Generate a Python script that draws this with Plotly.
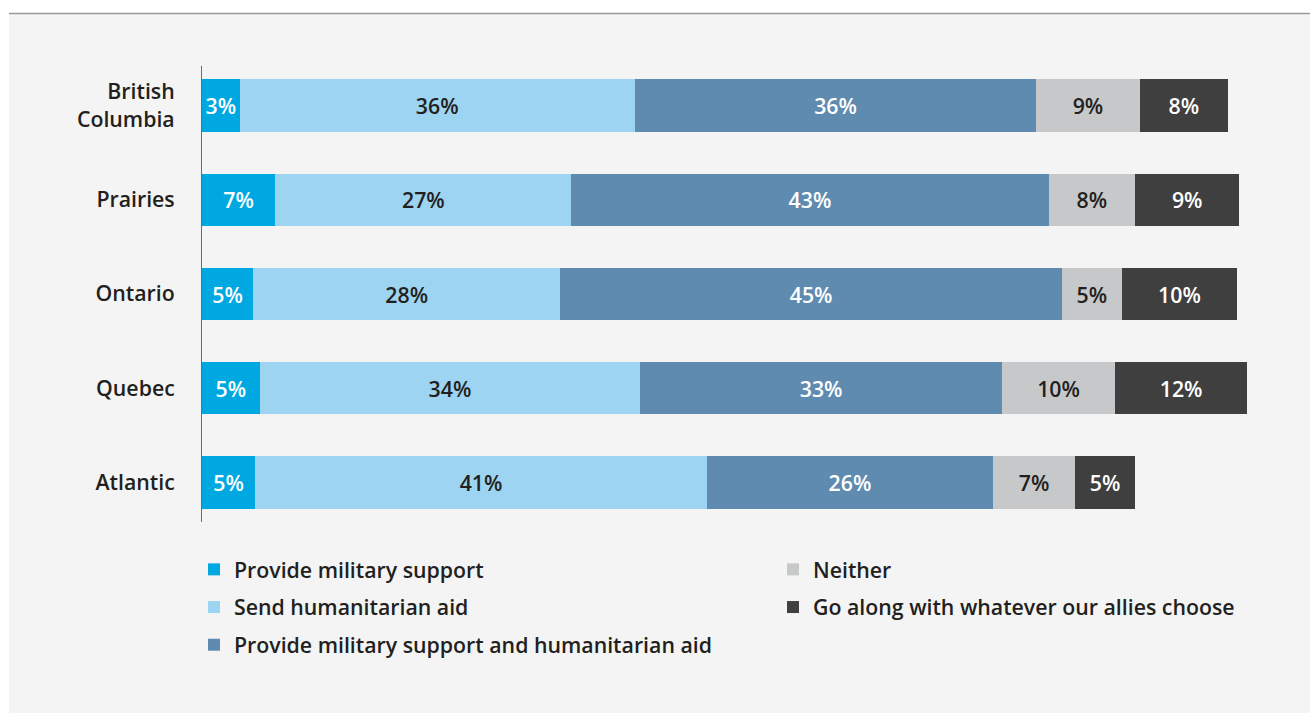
import plotly.graph_objects as go

regions = ["British<br>Columbia", "Prairies", "Ontario", "Quebec", "Atlantic"]

series_names = [
    "Provide military support",
    "Send humanitarian aid",
    "Provide military support and humanitarian aid",
    "Neither",
    "Go along with whatever our allies choose",
]

military = [3.4, 6.6, 4.6, 5.2, 4.8]
humanitarian = [35.6, 26.7, 27.7, 34.3, 40.7]
both = [36.2, 43.0, 45.2, 32.6, 25.8]
neither = [9.3, 7.8, 5.4, 10.2, 7.4]
allies = [8.0, 9.4, 10.4, 11.9, 5.4]

series_values = [military, humanitarian, both, neither, allies]
colors = ["#00a8e1", "#9dd4f1", "#608bb0", "#c7c8c9", "#3f3f3f"]
text_colors = ["#ffffff", "#231f20", "#ffffff", "#231f20", "#ffffff"]
legend_ids = ["legend", "legend", "legend", "legend2", "legend2"]

FONT = "Open Sans"
WEIGHT = 600
FS = 21.3
W, H = 1310, 713
ML, MR, MT, MB = 202, 54, 66, 191
PW = W - ML - MR
PH = H - MT - MB

fig = go.Figure()
for name, vals, col, tcol, lg in zip(series_names, series_values, colors, text_colors, legend_ids):
    fig.add_trace(go.Bar(
        y=regions, x=vals, name=name, orientation="h",
        marker=dict(color=col, line=dict(width=0)),
        texttemplate="%{x:.0f}%", textposition="inside", insidetextanchor="middle",
        textfont=dict(family=FONT, size=FS, color=tcol, weight=WEIGHT),
        legend=lg, legendgroup=name, hoverinfo="skip",
    ))

def px_x(p):
    return (p - ML) / PW

def px_y(p):
    return (H - MB - p) / PH

legend_font = dict(family=FONT, size=FS, color="#231f20", weight=WEIGHT)

fig.update_layout(
    width=W, height=H,
    margin=dict(l=ML, r=MR, t=MT, b=MB, pad=0),
    barmode="stack", bargap=0.443,
    paper_bgcolor="#f3f4f3", plot_bgcolor="#f3f4f3",
    font=dict(family=FONT, size=FS, color="#231f20", weight=WEIGHT),
    uniformtext=dict(minsize=FS, mode="show"),
    xaxis=dict(range=[0, 95], visible=False, fixedrange=True),
    yaxis=dict(categoryorder="array", categoryarray=regions,
               range=[4.42, -0.42], showline=True, linecolor="#6b6b6b", linewidth=1,
               showgrid=False, zeroline=False, ticks="", ticklabelstandoff=22,
               fixedrange=True,
               tickfont=dict(family=FONT, size=FS, color="#231f20", weight=WEIGHT)),
    legend=dict(x=px_x(194), y=px_y(549), xanchor="left", yanchor="top",
                orientation="v", bgcolor="rgba(0,0,0,0)", tracegroupgap=7,
                font=legend_font),
    legend2=dict(x=px_x(773), y=px_y(549), xanchor="left", yanchor="top",
                 orientation="v", bgcolor="rgba(0,0,0,0)", tracegroupgap=7,
                 font=legend_font),
    showlegend=True,
    shapes=[
        dict(type="rect", xref="paper", yref="paper", x0=px_x(-5), x1=px_x(W + 5),
             y0=px_y(13), y1=px_y(-5), fillcolor="#ffffff", line=dict(width=0), layer="below"),
        dict(type="rect", xref="paper", yref="paper", x0=px_x(-5), x1=px_x(9),
             y0=px_y(H + 5), y1=px_y(-5), fillcolor="#ffffff", line=dict(width=0), layer="below"),
        dict(type="line", xref="paper", yref="paper", x0=px_x(9), x1=px_x(W + 5),
             y0=px_y(13.5), y1=px_y(13.5), line=dict(color="#9a9a9a", width=1.5)),
    ],
)

fig.write_html("out.html", config={"displayModeBar": False},
               post_script="document.body.style.margin='0';")
